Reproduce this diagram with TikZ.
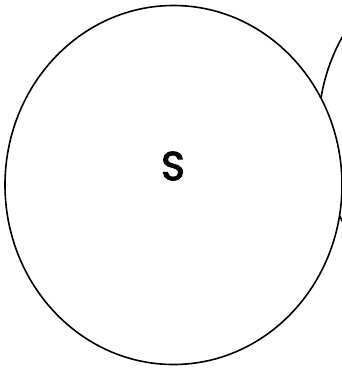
\documentclass[tikz,border=0pt]{standalone}
\usepackage{fontspec}
\newfontfamily\labelfont[BoldFont={Poppins},BoldFeatures={FakeBold=3}]{Poppins}
\begin{document}
\begin{tikzpicture}[x=1pt,y=-1pt,
  setline/.style={draw=black,line width=1.6pt,fill=white},
  setlabel/.style={font=\labelfont\bfseries\fontsize{40}{44}\selectfont,inner sep=0pt}]
\useasboundingbox (0,0) rectangle (342,370);
\begin{scope}
\clip (0,0) rectangle (342,370);
\draw[setline] (487,129) ellipse [x radius=168.5, y radius=179.5];
\draw[setline] (173.5,185) ellipse [x radius=168.5, y radius=179.5];
\end{scope}
\node[setlabel] (s) at (173,166) {S};
\end{tikzpicture}
\end{document}
